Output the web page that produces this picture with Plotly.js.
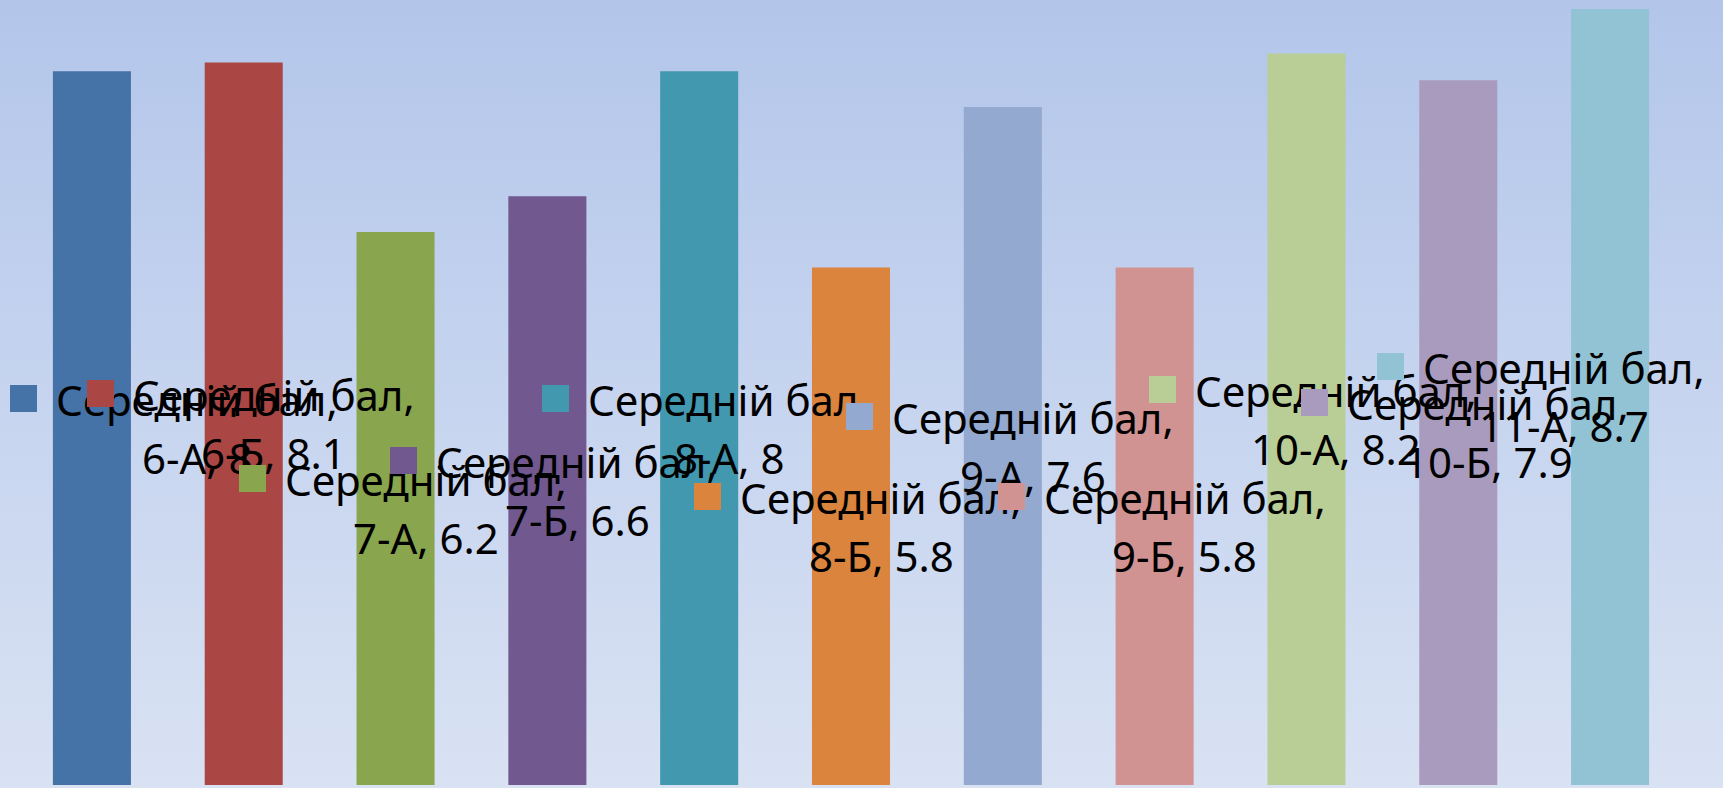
<!DOCTYPE html>
<html>
<head>
<meta charset="utf-8">
<script src="https://cdn.plot.ly/plotly-3.0.1.min.js"></script>
<style>
  html, body { margin: 0; padding: 0; }
  body { width: 1723px; height: 788px; overflow: hidden;
         background: linear-gradient(to bottom, #B3C6EA 0%, #C6D4EF 50%, #D9E2F3 100%); }
  #chart { width: 1723px; height: 788px; }
</style>
</head>
<body>
<div id="chart"></div>
<script>
// ---- data ----
const seriesName = 'Середній бал';
const categories = ['6-А', '6-Б', '7-А', '7-Б', '8-А', '8-Б', '9-А', '9-Б', '10-А', '10-Б', '11-А'];
const values = [8, 8.1, 6.2, 6.6, 8, 5.8, 7.6, 5.8, 8.2, 7.9, 8.7];
const colors = ['#4572A7', '#AA4643', '#89A54E', '#71588F', '#4198AF', '#DB843D',
                '#93A9CF', '#D19392', '#B9CD96', '#A99BBD', '#92C3D4'];

// ---- layout geometry ----
const W = 1723, H = 788;
const margin = {l: 16, r: 37, t: 0, b: 3, pad: 0};
const plotW = W - margin.l - margin.r;
const catW = plotW / categories.length;
const FONT = '"Noto Sans", "Open Sans", sans-serif';
const fontSize = 42;

const annotations = [];
categories.forEach((cat, i) => {
  const c = margin.l + (i + 0.5) * catW;      // bar centre, px
  const keyLeft = c - 157, textRight = c + 169;
  let delta = 0;
  if (keyLeft < 10) delta = 10 - keyLeft;
  if (textRight > W - 20) delta = (W - 20) - textRight;
  const ymid = values[i] / 2;
  // legend key
  annotations.push({
    x: cat, y: ymid, xref: 'x', yref: 'y', showarrow: false,
    text: ' ', width: 27, height: 27, bgcolor: colors[i], borderpad: 0, borderwidth: 0,
    font: {size: 10}, xanchor: 'center', yanchor: 'middle',
    xshift: -143.5 + delta, yshift: 30
  });
  // line 1
  annotations.push({
    x: cat, y: ymid, xref: 'x', yref: 'y', showarrow: false,
    text: seriesName + ',', font: {family: FONT, size: fontSize, color: '#000'},
    xanchor: 'center', yanchor: 'middle', xshift: 30 + delta, yshift: 29
  });
  // line 2
  annotations.push({
    x: cat, y: ymid, xref: 'x', yref: 'y', showarrow: false,
    text: cat + ', ' + String(values[i]), font: {family: FONT, size: fontSize, color: '#000'},
    xanchor: 'center', yanchor: 'middle', xshift: 30 + delta, yshift: -29
  });
});

const trace = {
  type: 'bar', x: categories, y: values,
  marker: {color: colors, line: {width: 0}},
  hoverinfo: 'none', showlegend: false
};

const layout = {
  width: W, height: H, margin: margin,
  paper_bgcolor: 'rgba(0,0,0,0)', plot_bgcolor: 'rgba(0,0,0,0)',
  bargap: 0.486,
  xaxis: {type: 'category', range: [-0.5, categories.length - 0.5], showgrid: false,
          zeroline: false, showline: false, showticklabels: false, ticks: ''},
  yaxis: {range: [0, 8.8], showgrid: false, zeroline: false, showline: false,
          showticklabels: false, ticks: ''},
  annotations: annotations,
  font: {family: FONT}
};

Plotly.newPlot('chart', [trace], layout, {displayModeBar: false, staticPlot: true});
</script>
</body>
</html>
